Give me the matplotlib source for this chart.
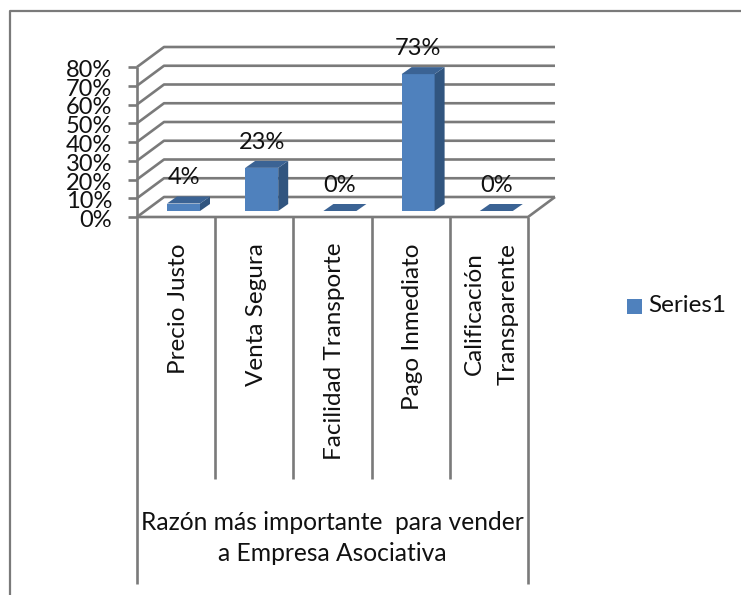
import matplotlib
matplotlib.use('Agg')
import matplotlib.pyplot as plt
from matplotlib.patches import Polygon

# chart values
categories = ['Precio Justo', 'Venta Segura', 'Facilidad Transporte',
              'Pago Inmediato', 'Calificación\nTransparente']
values = [4, 23, 0, 73, 0]
y_ticks = [0, 10, 20, 30, 40, 50, 60, 70, 80]
group_label = 'Razón más importante  para vender\na Empresa Asociativa'
series_name = 'Series1'

W, H = 741, 595
GRID = '#7a7a7a'
FRONT = '#4f81bd'
TOP = '#3b6394'
SIDE = '#31557f'
INK = '#111111'

plt.rcParams['font.family'] = ['Lato', 'DejaVu Sans']

fig = plt.figure(figsize=(W / 100, H / 100), dpi=100)

# plot box: one x unit per category, y in percent
left, right, top, bottom = 137, 528, 67, 217
ax = fig.add_axes([left / W, 1 - bottom / H, (right - left) / W, (bottom - top) / H])
ax.set_xlim(0, 5)
ax.set_ylim(0, 80)
ax.axis('off')

# depth of the 3d box and of the bars, in data units
px_x = 5 / (right - left)
px_y = 80 / (bottom - top)
dx, dy = 27 * px_x, 20 * px_y
bar_dx, bar_dy = 10 * px_x, 7 * px_y
bar_w = 33 * px_x
bar_off = 30 * px_x
base = 6 * px_y

lkw = dict(color=GRID, lw=1.9, clip_on=False, solid_capstyle='butt')

# outer frame, cut off by the image border
fig.add_artist(plt.Line2D([10 / W, 10 / W, 1], [0, 1 - 11 / H, 1 - 11 / H], color=GRID, lw=1.6))

# walls and floor
for t in y_ticks:
    ax.plot([0, dx, 5 + dx], [t, t + dy, t + dy], **lkw)
    ax.plot([-9 * px_x, 0], [t, t], **lkw)
    ax.text(-25 * px_x, t - 3.5 * px_y, '%d%%' % t, ha='right', va='center', fontsize=17, color=INK, clip_on=False)
ax.plot([0, 0], [0, 80], **lkw)
ax.plot([0, 5, 5 + dx], [0, 0, dy], **lkw)

# category dividers below the floor
div_end = -(479 - bottom) * px_y
out_end = -(584 - bottom) * px_y
for i in range(6):
    end = out_end if i in (0, 5) else div_end
    ax.plot([i, i], [0, end], **lkw)

# bars with top and side faces
for i, v in enumerate(values):
    x0 = i + bar_off
    x1 = x0 + bar_w
    y0 = base
    y1 = base + v
    if v > 0:
        ax.add_patch(Polygon([(x0, y0), (x1, y0), (x1, y1), (x0, y1)], fc=FRONT, ec='none', clip_on=False, zorder=4))
        ax.add_patch(Polygon([(x1, y0), (x1 + bar_dx, y0 + bar_dy), (x1 + bar_dx, y1 + bar_dy), (x1, y1)], fc=SIDE, ec='none', clip_on=False, zorder=4))
    ax.add_patch(Polygon([(x0, y1), (x1, y1), (x1 + bar_dx, y1 + bar_dy), (x0 + bar_dx, y1 + bar_dy)], fc=TOP, ec='none', clip_on=False, zorder=4))
    ax.text(x0 + bar_w / 2, y1 + bar_dy + 8 * px_y, '%d%%' % v, ha='center', va='bottom', fontsize=17, color=INK, clip_on=False, zorder=5)

# rotated category names
for i, c in enumerate(categories):
    ax.text(i + 0.5 + 2 * px_x, -(243 - bottom) * px_y, c, rotation=90, ha='center', va='top', ma='center', fontsize=17.5, linespacing=1.75, color=INK, clip_on=False)

ax.text(2.5, -(538 - bottom) * px_y, group_label, ha='center', va='center', ma='center', fontsize=17.7, linespacing=1.4, color=INK, clip_on=False)

# legend
fig.patches.append(plt.Rectangle((627 / W, 1 - 314 / H), 15 / W, 15 / H, transform=fig.transFigure, fc=FRONT, ec='none'))
fig.text(648 / W, 1 - 306 / H, series_name, ha='left', va='center', fontsize=17.5, color=INK)

fig.savefig('out.png', dpi=100)
